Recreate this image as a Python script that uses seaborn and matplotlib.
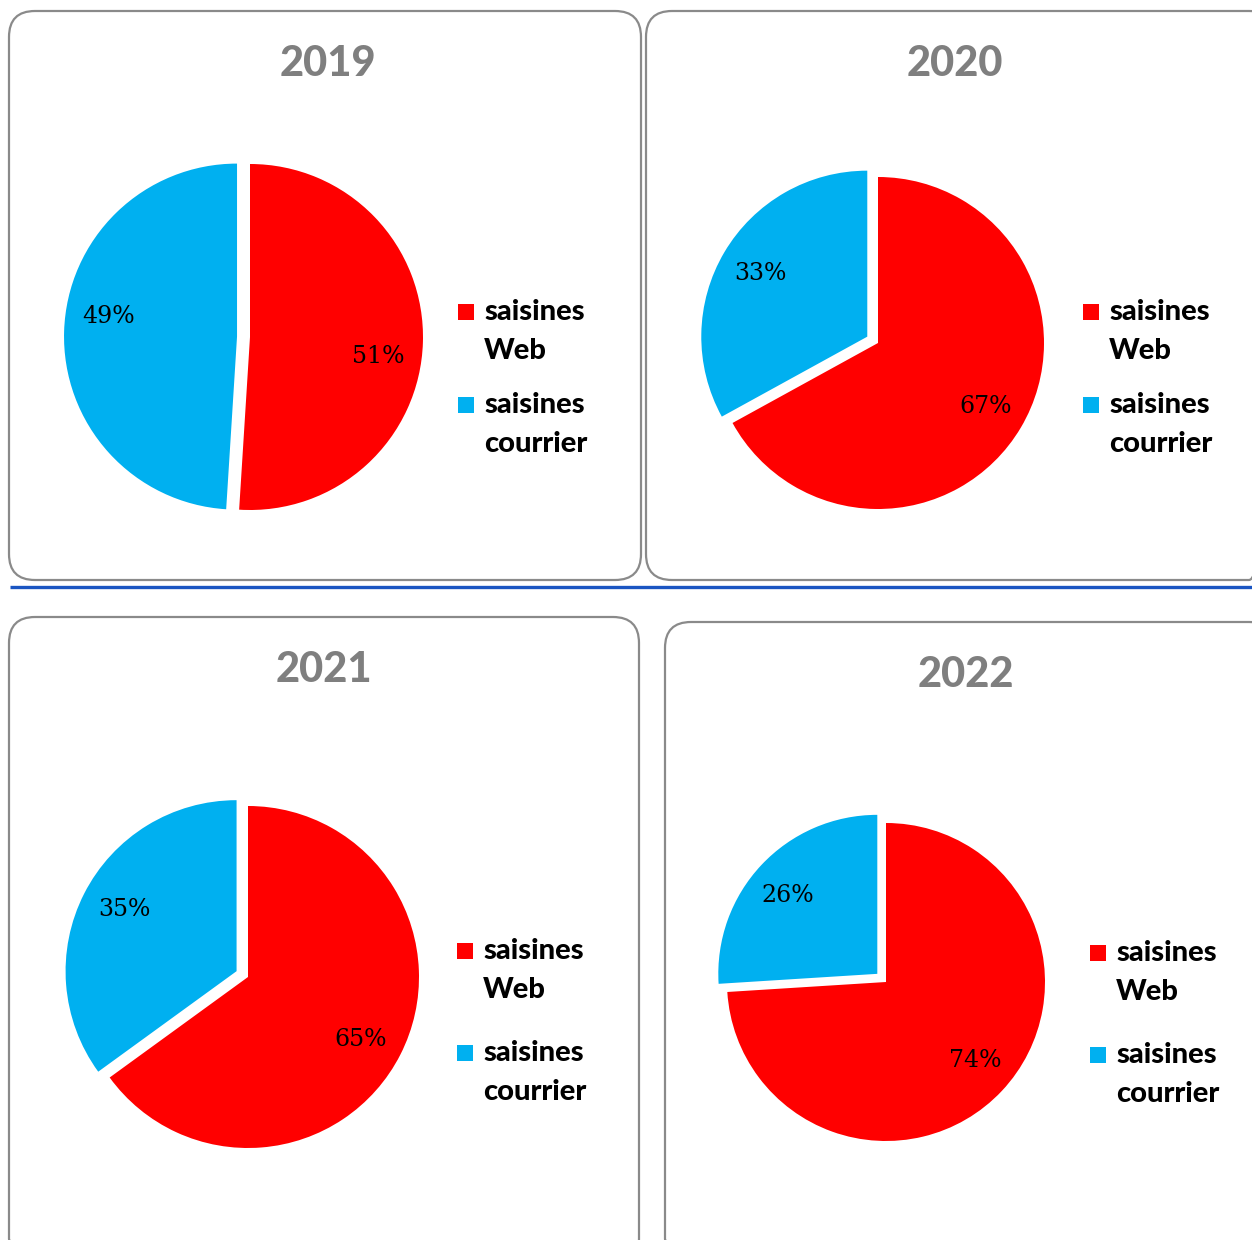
import math
import matplotlib
matplotlib.use("Agg")
import matplotlib.pyplot as plt
from matplotlib.patches import FancyBboxPatch, Rectangle
import seaborn as sns

# ---------------- data ----------------
years = ["2019", "2020", "2021", "2022"]
web_pct = [51, 67, 65, 74]
courrier_pct = [49, 33, 35, 26]
categories = ["saisines\nWeb", "saisines\ncourrier"]
colors = ["#FF0000", "#00B0F0"]

# ---------------- layout (pixels) ----------------
W, H = 1252, 1240
panels = [  # x0, y0, x1, y1 of rounded frame
    (9, 11, 641, 580),
    (646, 11, 1275, 580),
    (9, 617, 639, 1265),
    (665, 622, 1275, 1265),
]
title_pos = [(328, 64), (955, 64), (324, 670), (966, 675)]
pie_center = [(250, 337), (878, 343), (248, 977), (886, 982)]
pie_radius = [173, 166, 171, 159]
label_turn = [-7, 0, -2, 2]   # degrees: small rotation of the % labels (layout only)
legend_pos = [(458, 312), (1083, 312), (457, 951), (1090, 953)]
legend_gap = [93, 93, 102, 102]

sns.set_theme(style="white")
plt.rcParams["font.family"] = ["Lato", "DejaVu Sans"]

fig = plt.figure(figsize=(W / 100, H / 100), dpi=100)
fig.patch.set_facecolor("white")

bg = fig.add_axes([0, 0, 1, 1], zorder=0)
bg.set_xlim(0, W)
bg.set_ylim(H, 0)
bg.axis("off")

# frames
for (x0, y0, x1, y1) in panels:
    bg.add_patch(FancyBboxPatch((x0, y0), x1 - x0, y1 - y0,
                                boxstyle="round,pad=0,rounding_size=26",
                                fc="none", ec="#8a8a8a", lw=1.6,
                                clip_on=False))

# separator line
bg.plot([10, W], [587, 587], color="#1a55c2", lw=2.4, solid_capstyle="butt")

# titles
for (tx, ty), yr in zip(title_pos, years):
    bg.text(tx, ty, yr, ha="center", va="center", fontsize=30,
            fontweight="black", color="#7f7f7f")

# legends
for (sx, sy), gap in zip(legend_pos, legend_gap):
    for k, (lab, col) in enumerate(zip(categories, colors)):
        ybase = sy + k * gap
        bg.add_patch(Rectangle((sx, ybase - 8), 16, 16, fc=col, ec="none"))
        for j, line in enumerate(lab.split("\n")):
            bg.text(sx + 26, ybase + j * 39, line, ha="left", va="center",
                    fontsize=21, fontweight="black", color="black")

# pies
for i in range(4):
    cx, cy = pie_center[i]
    R = pie_radius[i]
    f = 1.3
    ax = fig.add_axes([(cx - f * R) / W, (H - cy - f * R) / H,
                       2 * f * R / W, 2 * f * R / H], zorder=1)
    ax.patch.set_alpha(0)
    wedges, texts, autotexts = ax.pie(
        [web_pct[i], courrier_pct[i]],
        colors=colors,
        startangle=90,
        counterclock=False,
        explode=[0, 0.075],
        radius=1,
        autopct=lambda p: f"{p:.0f}%",
        pctdistance=0.75,
        wedgeprops=dict(linewidth=0),
        textprops=dict(fontsize=17, family="DejaVu Serif", color="black"),
    )
    # rotate label positions slightly around the wedge centre
    rot = math.radians(label_turn[i])
    for w, t in zip(wedges, autotexts):
        wx, wy = w.center
        px, py = t.get_position()
        dx, dy = px - wx, py - wy
        t.set_position((wx + dx * math.cos(rot) - dy * math.sin(rot),
                        wy + dx * math.sin(rot) + dy * math.cos(rot)))
    ax.set_xlim(-f, f)
    ax.set_ylim(-f, f)
    ax.set_aspect("equal")
    ax.axis("off")

fig.savefig("out.png", dpi=100, facecolor="white")
